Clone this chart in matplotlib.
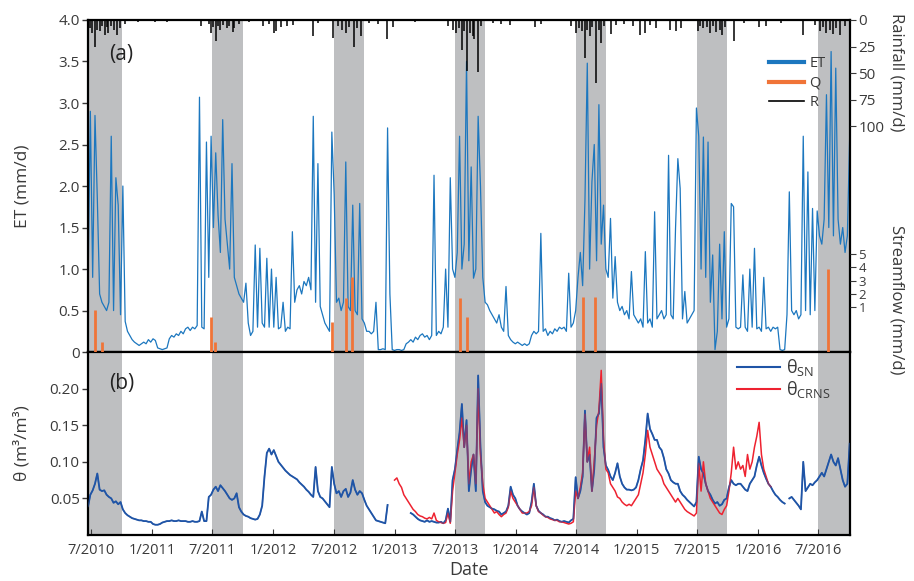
import numpy as np
import matplotlib
matplotlib.use('Agg')
import matplotlib.pyplot as plt

plt.rcParams['font.family'] = ['Open Sans', 'DejaVu Sans']
plt.rcParams['mathtext.fontset'] = 'custom'
plt.rcParams['mathtext.rm'] = 'Open Sans'

# weekly samples, starting 2010-06-22
start = np.datetime64('2010-06-22')

et = [0.8, 2.9, 0.9, 2.85, 1.85, 0.7, 0.6, 0.55, 0.5, 0.6,
      2.6, 0.5, 2.1, 1.77, 0.45, 2.0, 0.37, 0.25, 0.2, 0.15,
      0.12, 0.1, 0.08, 0.1, 0.12, 0.1, 0.15, 0.12, 0.16, 0.14,
      0.05, 0.04, 0.03, 0.04, 0.05, 0.16, 0.2, 0.18, 0.22, 0.2,
      0.25, 0.22, 0.28, 0.3, 0.26, 0.3, 0.28, 0.32, 3.07, 0.3,
      0.28, 2.53, 0.9, 2.6, 1.5, 2.4, 1.65, 1.2, 2.8, 1.6,
      1.3, 1.0, 2.27, 0.9, 0.8, 0.7, 0.65, 0.6, 0.83, 0.35,
      0.2, 0.25, 1.29, 0.3, 1.25, 0.35, 0.3, 1.13, 0.3, 1.0,
      0.3, 0.9, 0.28, 0.3, 0.6, 0.25, 0.3, 0.28, 1.45, 0.6,
      0.75, 0.8, 0.7, 0.85, 0.8, 0.9, 0.75, 2.84, 0.6, 2.27,
      0.55, 0.45, 0.35, 0.3, 0.25, 2.65, 1.9, 0.6, 0.65, 0.5,
      0.6, 2.29, 0.55, 0.5, 1.77, 0.5, 0.45, 1.79, 0.4, 0.35,
      0.25, 0.25, 0.22, 0.25, 0.6, 0.03, 0.03, 0.04, 0.03, 2.7,
      0.7, 0.03, 0.02, 0.03, 0.03, 0.02, 0.03, 0.1, 0.12, 0.15,
      0.12, 0.18, 0.15, 0.2, 0.22, 0.18, 0.2, 0.15, 0.2, 2.13,
      0.2, 0.25, 0.22, 0.3, 1.0, 0.3, 2.1, 1.0, 0.9, 1.2,
      2.6, 1.0, 1.3, 3.5, 1.1, 2.23, 0.89, 1.0, 2.84, 2.0,
      0.9, 0.6, 0.57, 0.5, 0.45, 0.4, 0.35, 0.45, 0.3, 0.25,
      0.79, 0.2, 0.15, 0.12, 0.1, 0.12, 0.1, 0.08, 0.1, 0.08,
      0.1, 0.2, 0.25, 0.22, 0.25, 1.43, 0.25, 0.28, 0.2, 0.25,
      0.22, 0.28, 0.25, 0.3, 0.28, 0.3, 0.25, 0.95, 0.3, 0.35,
      0.5, 0.9, 1.2, 0.8, 1.83, 3.48, 1.0, 2.05, 2.5, 1.1,
      2.98, 1.3, 1.77, 1.0, 0.9, 1.61, 0.65, 1.15, 0.6, 0.5,
      0.55, 0.45, 0.5, 0.4, 0.97, 0.45, 0.4, 0.35, 0.4, 0.3,
      1.21, 0.35, 0.4, 0.3, 1.69, 0.4, 0.45, 0.5, 0.4, 0.45,
      2.37, 0.45, 0.4, 1.49, 2.33, 1.97, 0.4, 0.73, 0.35, 0.4,
      0.45, 0.5, 2.94, 2.6, 1.0, 2.59, 0.9, 2.53, 0.6, 1.17,
      0.03, 0.25, 1.3, 0.4, 1.45, 0.3, 0.4, 1.79, 1.75, 0.3,
      0.28, 0.3, 0.93, 0.3, 0.25, 1.0, 0.3, 1.25, 0.28, 0.3,
      0.25, 0.9, 0.28, 0.3, 0.25, 0.3, 0.28, 0.3, 0.03, 0.02,
      0.03, 0.45, 1.93, 0.5, 0.45, 0.5, 0.4, 0.45, 2.6, 0.5,
      2.17, 0.45, 1.73, 0.5, 1.7, 1.4, 1.3, 1.6, 3.1, 1.5,
      3.62, 1.4, 3.42, 1.6, 1.3, 1.5, 1.2, 1.4, 2.6]

theta_sn = [0.039, 0.055, 0.061, 0.07, 0.084, 0.062, 0.06, 0.061, 0.055, 0.052,
            0.05, 0.044, 0.046, 0.042, 0.045, 0.035, 0.03, 0.027, 0.025, 0.023,
            0.022, 0.021, 0.02, 0.02, 0.019, 0.019, 0.018, 0.018, 0.015, 0.014,
            0.014, 0.015, 0.017, 0.018, 0.019, 0.019, 0.02, 0.019, 0.019, 0.02,
            0.019, 0.019, 0.019, 0.018, 0.018, 0.019, 0.018, 0.018, 0.019, 0.032,
            0.019, 0.019, 0.052, 0.055, 0.062, 0.066, 0.06, 0.068, 0.064, 0.06,
            0.055, 0.05, 0.048, 0.05, 0.057, 0.038, 0.032, 0.028, 0.026, 0.025,
            0.023, 0.022, 0.021, 0.022, 0.028, 0.04, 0.08, 0.112, 0.118, 0.11,
            0.116, 0.108, 0.1, 0.096, 0.092, 0.088, 0.085, 0.082, 0.08, 0.078,
            0.076, 0.072, 0.069, 0.066, 0.062, 0.059, 0.055, 0.052, 0.093, 0.06,
            0.052, 0.05, 0.046, 0.042, 0.038, 0.093, 0.07, 0.057, 0.06, 0.052,
            0.06, 0.063, 0.052, 0.058, 0.075, 0.062, 0.055, 0.06, 0.057, 0.048,
            0.04, 0.035, 0.03, 0.025, 0.02, 0.019, 0.018, 0.017, 0.016, 0.041,
            None, None, None, None, None, None, None, None, None, 0.03,
            0.028, 0.025, 0.022, 0.02, 0.019, 0.018, 0.02, 0.018, 0.019, 0.018,
            0.017, 0.017, 0.018, 0.016, 0.02, 0.036, 0.018, 0.075, 0.09, 0.116,
            0.14, 0.179, 0.12, 0.157, 0.06, 0.09, 0.11, 0.06, 0.218, 0.12,
            0.06, 0.045, 0.04, 0.038, 0.036, 0.035, 0.033, 0.032, 0.028, 0.03,
            0.032, 0.04, 0.066, 0.055, 0.05, 0.04, 0.035, 0.032, 0.03, 0.028,
            0.03, 0.045, 0.07, 0.04, 0.033, 0.03, 0.028, 0.025, 0.025, 0.023,
            0.022, 0.02, 0.021, 0.019, 0.018, 0.019, 0.018, 0.017, 0.02, 0.022,
            0.079, 0.05, 0.06, 0.08, 0.17, 0.1, 0.11, 0.06, 0.09, 0.16,
            0.166, 0.207, 0.12, 0.095, 0.089, 0.08, 0.075, 0.085, 0.098, 0.08,
            0.07, 0.065, 0.062, 0.062, 0.061, 0.062, 0.065, 0.075, 0.09, 0.102,
            0.13, 0.166, 0.145, 0.138, 0.13, 0.13, 0.12, 0.116, 0.105, 0.09,
            0.084, 0.075, 0.072, 0.07, 0.07, 0.06, 0.055, 0.052, 0.048, 0.045,
            0.042, 0.039, 0.045, 0.107, 0.09, 0.084, 0.07, 0.06, 0.055, 0.048,
            0.043, 0.045, 0.04, 0.042, 0.048, 0.05, 0.065, 0.075, 0.07, 0.068,
            0.07, 0.07, 0.066, 0.062, 0.06, 0.07, 0.075, 0.08, 0.095, 0.107,
            0.095, 0.085, 0.077, 0.07, 0.066, 0.06, 0.055, 0.052, 0.048, 0.045,
            0.043, None, 0.05, 0.052, 0.048, 0.044, 0.04, 0.035, 0.1, 0.06,
            0.065, 0.07, 0.068, 0.072, 0.075, 0.08, 0.085, 0.08, 0.09, 0.1,
            0.11, 0.1, 0.095, 0.105, 0.09, 0.075, 0.066, 0.07, 0.125]

# CRNS record begins at week 132
crns_first_week = 132
theta_crns = [0.075, 0.078, 0.07, 0.065, 0.055, 0.05, 0.045, 0.04, 0.035, 0.032,
              0.028, 0.026, 0.025, 0.023, 0.022, 0.024, 0.022, 0.03, 0.02, 0.018,
              0.017, 0.016, 0.017, 0.03, 0.016, 0.06, 0.085, 0.11, 0.13, 0.16,
              0.12, 0.15, 0.07, 0.1, 0.11, 0.07, 0.2, 0.11, 0.07, 0.05,
              0.045, 0.04, 0.035, 0.03, 0.032, 0.028, 0.025, 0.028, 0.03, 0.038,
              0.06, 0.05, 0.045, 0.04, 0.035, 0.03, 0.03, 0.03, 0.032, 0.04,
              0.065, 0.04, 0.032, 0.03, 0.027, 0.025, 0.024, 0.022, 0.021, 0.02,
              0.02, 0.018, 0.018, 0.017, 0.016, 0.015, 0.016, 0.018, 0.06, 0.05,
              0.065, 0.085, 0.165, 0.1, 0.12, 0.06, 0.1, 0.15, 0.17, 0.225,
              0.13, 0.09, 0.085, 0.07, 0.065, 0.06, 0.052, 0.05, 0.045, 0.042,
              0.04, 0.042, 0.04, 0.045, 0.05, 0.055, 0.07, 0.085, 0.11, 0.143,
              0.12, 0.11, 0.1, 0.09, 0.085, 0.08, 0.07, 0.065, 0.06, 0.055,
              0.05, 0.045, 0.05, 0.045, 0.04, 0.035, 0.032, 0.03, 0.028, 0.026,
              0.03, 0.098, 0.06, 0.1, 0.07, 0.06, 0.05, 0.045, 0.04, 0.035,
              0.03, 0.028, 0.035, 0.04, 0.06, 0.085, 0.12, 0.09, 0.1, 0.09,
              0.095, 0.08, 0.11, 0.09, 0.1, 0.12, 0.135, 0.154, 0.11, 0.09,
              0.08, 0.07, 0.066]

rain_dates = ['2010-06-23', '2010-06-29', '2010-07-05', '2010-07-13', '2010-07-20',
              '2010-07-28', '2010-08-04', '2010-08-12', '2010-08-17', '2010-08-22',
              '2010-08-30', '2010-09-08', '2010-09-16', '2010-09-26', '2010-10-11',
              '2010-11-20', '2011-01-10', '2011-02-15', '2011-05-30', '2011-06-22',
              '2011-06-29', '2011-07-05', '2011-07-12', '2011-07-18', '2011-07-25',
              '2011-08-02', '2011-08-14', '2011-08-22', '2011-09-03', '2011-09-06',
              '2011-09-20', '2011-10-20', '2011-11-30', '2011-12-20', '2012-01-04',
              '2012-01-10', '2012-01-25', '2012-02-12', '2012-03-02', '2012-04-29',
              '2012-05-15', '2012-06-30', '2012-07-15', '2012-07-28', '2012-08-09',
              '2012-08-18', '2012-09-01', '2012-09-10', '2012-09-23', '2012-10-15',
              '2012-11-12', '2012-12-10', '2012-12-26', '2013-03-03', '2013-06-11',
              '2013-06-26', '2013-07-05', '2013-07-14', '2013-07-22', '2013-07-30',
              '2013-08-06', '2013-08-15', '2013-08-24', '2013-08-30', '2013-09-10',
              '2013-09-20', '2013-10-25', '2013-11-19', '2013-12-14', '2014-02-27',
              '2014-03-19', '2014-06-18', '2014-07-03', '2014-07-10', '2014-07-20',
              '2014-07-28', '2014-08-05', '2014-08-12', '2014-08-20', '2014-09-01',
              '2014-09-08', '2014-09-16', '2014-09-25', '2014-10-16', '2014-10-31',
              '2014-11-25', '2014-12-20', '2015-01-10', '2015-01-25', '2015-02-10',
              '2015-03-01', '2015-04-10', '2015-04-30', '2015-05-15', '2015-07-04',
              '2015-07-12', '2015-07-20', '2015-08-01', '2015-08-10', '2015-08-20',
              '2015-08-28', '2015-09-08', '2015-09-15', '2015-09-25', '2015-10-20',
              '2015-11-20', '2016-01-05', '2016-01-25', '2016-03-10', '2016-05-15',
              '2016-06-20', '2016-07-05', '2016-07-15', '2016-07-25', '2016-08-05',
              '2016-08-15', '2016-08-25', '2016-09-05', '2016-09-20']
rain_mm = [19, 8, 12, 25, 9,
           10, 6, 14, 7, 12,
           6, 9, 14, 8, 4,
           2, 2, 2, 6, 4,
           12, 7, 20, 6, 9,
           5, 8, 6, 11, 8,
           4, 2, 6, 4, 12,
           10, 7, 6, 5, 15,
           3, 17, 6, 9, 12,
           7, 25, 8, 15, 3,
           4, 18, 7, 2, 6,
           9, 12, 8, 28, 10,
           48, 12, 15, 18, 49,
           6, 3, 4, 5, 7,
           4, 6, 12, 8, 10,
           36, 9, 15, 7, 59,
           9, 22, 6, 13, 5,
           4, 6, 14, 12, 5,
           8, 9, 10, 8, 10,
           6, 8, 7, 12, 6,
           11, 9, 14, 7, 20,
           3, 7, 6, 3, 14,
           5, 10, 7, 12, 9,
           13, 8, 14, 6]

q_dates = ['2010-07-13', '2010-08-02', '2011-06-28', '2011-07-10', '2012-06-25',
           '2012-08-09', '2012-08-26', '2013-07-16', '2013-08-06', '2014-07-23',
           '2014-08-29', '2016-08-01']
q_mm = [0.87, 0.05, 0.6, 0.05, 0.45,
        1.68, 3.27, 1.68, 0.6, 1.76,
        1.76, 3.9]

band_start = ['2010-06-01', '2011-07-01', '2012-07-01', '2013-07-01',
              '2014-07-01', '2015-07-01', '2016-07-01']
band_end = ['2010-10-01', '2011-10-01', '2012-10-01', '2013-10-01',
            '2014-10-01', '2015-10-01', '2016-10-10']

tick_dates = ['2010-07-01', '2011-01-01', '2011-07-01', '2012-01-01', '2012-07-01',
              '2013-01-01', '2013-07-01', '2014-01-01', '2014-07-01', '2015-01-01',
              '2015-07-01', '2016-01-01', '2016-07-01']
tick_labels = ['7/2010', '1/2011', '7/2011', '1/2012', '7/2012', '1/2013', '7/2013',
               '1/2014', '7/2014', '1/2015', '7/2015', '1/2016', '7/2016']

weeks = start + 7 * np.arange(len(et))
sn = np.array([np.nan if v is None else v for v in theta_sn])
crns_weeks = weeks[crns_first_week:crns_first_week + len(theta_crns)]

c_et = '#1c77bf'
c_q = '#f07438'
c_sn = '#1f54a6'
c_crns = '#ee2230'
c_band = '#bebfc1'
c_txt = '#3a3a3a'
xlim = (np.datetime64('2010-06-22'), np.datetime64('2016-10-05'))


# streamflow axis: square-root below 1 mm/d, linear above
def q_fwd(q):
    q = np.clip(np.asarray(q, dtype=float), 0, None)
    return np.where(q <= 1, np.sqrt(q), 1 + (q - 1) * 0.294)


def q_inv(s):
    s = np.asarray(s, dtype=float)
    return np.where(s <= 1, np.clip(s, 0, None) ** 2, 1 + (s - 1) / 0.294)


fig = plt.figure(figsize=(9.14, 5.81), dpi=100)
ax_a = fig.add_axes([0.0963, 0.394, 0.8337, 0.5716])
ax_b = fig.add_axes([0.0963, 0.0792, 0.8337, 0.3148])

for ax in (ax_a, ax_b):
    for s, e in zip(band_start, band_end):
        ax.axvspan(np.datetime64(s), np.datetime64(e), color=c_band, lw=0, zorder=0)
    ax.set_xlim(*xlim)
    ax.set_xticks([np.datetime64(d) for d in tick_dates])
    for sp in ax.spines.values():
        sp.set_linewidth(1.6)
    ax.tick_params(axis='y', direction='out', length=4, width=1, labelsize=11,
                   colors=c_txt, pad=2)

# panel (a)
ax_a.plot(weeks, et, color=c_et, lw=0.9, zorder=2)
ax_a.set_ylim(0, 4)
ax_a.set_yticks(np.arange(0, 4.01, 0.5))
ax_a.set_yticklabels(['0', '0.5', '1.0', '1.5', '2.0', '2.5', '3.0', '3.5', '4.0'])
ax_a.tick_params(axis='x', direction='out', length=4, labelbottom=False)
ax_a.set_ylabel('ET (mm/d)', fontsize=12.5, color=c_txt)
ax_a.yaxis.set_label_coords(-0.075, 0.5)
ax_a.text(0.028, 0.88, '(a)', transform=ax_a.transAxes, fontsize=15, color='#222222')

ax_q = ax_a.twinx()
ax_q.set_yscale('function', functions=(q_fwd, q_inv))
ax_q.vlines([np.datetime64(d) for d in q_dates], 0, q_mm, color=c_q, lw=2.0, zorder=3)
ax_q.set_ylim(0, 22.7)
ax_q.set_yticks([1, 2, 3, 4, 5])
ax_q.set_yticklabels(['1', '2', '3', '4', '5'])
ax_q.minorticks_off()
ax_q.tick_params(axis='y', direction='out', length=4, labelsize=9.5, colors=c_txt, pad=2)
for sp in ax_q.spines.values():
    sp.set_visible(False)

ax_r = ax_a.twinx()
ax_r.vlines([np.datetime64(d) for d in rain_dates], 0, rain_mm, color='black', lw=1.1)
ax_r.set_ylim(313, 0)
ax_r.set_yticks([0, 25, 50, 75, 100])
ax_r.tick_params(axis='y', direction='out', length=4, labelsize=11, colors=c_txt, pad=2)
for sp in ax_r.spines.values():
    sp.set_visible(False)
ax_r.set_xlim(*xlim)

handles = [plt.Line2D([], [], color=c_et, lw=3),
           plt.Line2D([], [], color=c_q, lw=3),
           plt.Line2D([], [], color='black', lw=1.2)]
ax_r.legend(handles, ['ET', 'Q', 'R'], loc='upper right', bbox_to_anchor=(0.985, 0.93),
            frameon=False, fontsize=10.5, handlelength=2.4, handletextpad=0.4,
            labelspacing=0.3, labelcolor=c_txt)

fig.text(897 / 914, 1 - 72 / 581, 'Rainfall (mm/d)', rotation=270, ha='center',
         va='center', fontsize=12, color=c_txt)
fig.text(897 / 914, 1 - 300 / 581, 'Streamflow (mm/d)', rotation=270, ha='center',
         va='center', fontsize=12, color=c_txt)

# panel (b)
ax_b.plot(weeks, sn, color=c_sn, lw=1.3, zorder=2)
ax_b.plot(crns_weeks, theta_crns, color=c_crns, lw=1.1, zorder=3)
ax_b.plot(weeks, sn, color=c_sn, lw=1.0, alpha=0.6, zorder=4)
ax_b.set_ylim(0, 0.25)
ax_b.set_yticks([0.05, 0.10, 0.15, 0.20])
ax_b.set_yticklabels(['0.05', '0.10', '0.15', '0.20'])
ax_b.set_xticklabels(tick_labels)
ax_b.tick_params(axis='x', direction='in', length=4, labelsize=10.5, colors=c_txt, pad=6)
ax_b.set_ylabel('θ (m³/m³)', fontsize=12.5, color=c_txt)
ax_b.yaxis.set_label_coords(-0.075, 0.5)
ax_b.set_xlabel('Date', fontsize=13, color=c_txt, labelpad=2)
ax_b.text(0.028, 0.8, '(b)', transform=ax_b.transAxes, fontsize=15, color='#222222')

hb = [plt.Line2D([], [], color=c_sn, lw=1.5), plt.Line2D([], [], color=c_crns, lw=1.5)]
ax_b.legend(hb, ['θ$_{\\mathrm{SN}}$', 'θ$_{\\mathrm{CRNS}}$'], loc='upper right',
            bbox_to_anchor=(0.995, 1.06), frameon=False, fontsize=13,
            handlelength=2.4, handletextpad=0.3, labelspacing=0.05, labelcolor=c_txt)

fig.savefig('out.png', dpi=100)
